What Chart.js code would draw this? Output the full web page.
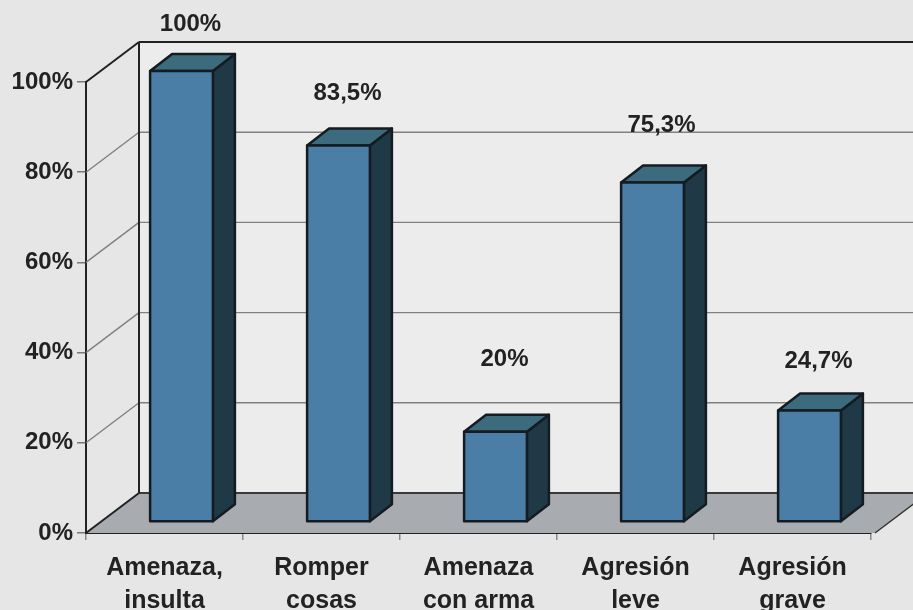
<!DOCTYPE html>
<html lang="es">
<head>
  <meta charset="UTF-8">
  <title>Agresiones</title>
  <script src="https://cdn.jsdelivr.net/npm/chart.js"></script>
  <style>
    html, body { margin: 0; padding: 0; background: #e6e6e6; }
    #wrap { width: 913px; height: 610px; }
  </style>
</head>
<body>
  <div id="wrap"><canvas id="chart" width="913" height="610"></canvas></div>

  <script>
    // data
    const categories = [
      ['Amenaza,', 'insulta'],
      ['Romper', 'cosas'],
      ['Amenaza', 'con arma'],
      ['Agresión', 'leve'],
      ['Agresión', 'grave']
    ];
    const values = [100, 83.5, 20, 75.3, 24.7];
    const valueLabels = ['100%', '83,5%', '20%', '75,3%', '24,7%'];
    const yTicks = [0, 20, 40, 60, 80, 100];

    // how far above each bar top its label sits (layout only)
    const labelLift = [47, 52, 72, 57, 49];

    const FAMILY = '"Liberation Sans", Arial, sans-serif';
    const FONT = 'bold 24px ' + FAMILY;
    const WALL = { dx: 53, dy: -40 };   // back wall offset from front axes
    const BAR = { dx: 17, dy: -11 };    // bar front face offset
    const DEPTH = { dx: 22, dy: -17 };  // bar depth

    function poly(ctx, pts, fill, stroke, lw) {
      ctx.beginPath();
      ctx.moveTo(pts[0][0], pts[0][1]);
      for (let i = 1; i < pts.length; i++) ctx.lineTo(pts[i][0], pts[i][1]);
      ctx.closePath();
      if (fill) { ctx.fillStyle = fill; ctx.fill(); }
      if (stroke) { ctx.strokeStyle = stroke; ctx.lineWidth = lw; ctx.stroke(); }
    }

    function line(ctx, x1, y1, x2, y2, color, lw) {
      ctx.beginPath();
      ctx.moveTo(x1, y1);
      ctx.lineTo(x2, y2);
      ctx.strokeStyle = color;
      ctx.lineWidth = lw;
      ctx.stroke();
    }

    const bars3d = {
      id: 'bars3d',
      beforeDraw(chart) {
        const ctx = chart.ctx;
        ctx.save();
        ctx.fillStyle = '#e6e6e6';
        ctx.fillRect(0, 0, chart.width, chart.height);
        ctx.restore();
      },
      beforeDatasetsDraw(chart) {
        const ctx = chart.ctx;
        const { left: L, right: R, top: T, bottom: B } = chart.chartArea;
        const ys = chart.scales.y;
        ctx.save();
        ctx.lineJoin = 'round';

        // back wall
        ctx.fillStyle = '#ececec';
        ctx.fillRect(L + WALL.dx, T + WALL.dy, chart.width - L - WALL.dx, B - T);

        // floor
        poly(ctx, [[L, B], [R + 4, B], [R + 4 + WALL.dx, B + WALL.dy], [L + WALL.dx, B + WALL.dy]], '#a8acb1');
        line(ctx, L + WALL.dx, B + WALL.dy, chart.width, B + WALL.dy, '#3a3a3a', 2);
        line(ctx, L, B, L + WALL.dx, B + WALL.dy, '#222', 2);
        line(ctx, R + 4, B, R + 4 + WALL.dx, B + WALL.dy, '#333', 1.5);

        // gridlines on the back wall
        ys.ticks.forEach(t => {
          const y = ys.getPixelForValue(t.value);
          if (t.value === 0) return;
          const top = t.value === ys.max;
          const c = top ? '#222' : '#808080';
          const w = top ? 2 : 1.4;
          line(ctx, L, y, L + WALL.dx, y + WALL.dy, c, w);
          line(ctx, L + WALL.dx, y + WALL.dy, chart.width, y + WALL.dy, c, w);
        });
        line(ctx, L + WALL.dx, T + WALL.dy, L + WALL.dx, B + WALL.dy, '#222', 2);
        ctx.restore();
      },
      afterDatasetsDraw(chart) {
        const ctx = chart.ctx;
        const meta = chart.getDatasetMeta(0);
        ctx.save();
        ctx.lineJoin = 'round';
        meta.data.forEach((el, i) => {
          const p = el.getProps(['x', 'y', 'base', 'width'], true);
          const fx = p.x - p.width / 2 + BAR.dx;
          const fy = p.y + BAR.dy;
          const fb = p.base + BAR.dy;
          const fw = p.width;
          const edge = '#141c22';
          poly(ctx, [[fx + fw, fy], [fx + fw + DEPTH.dx, fy + DEPTH.dy], [fx + fw + DEPTH.dx, fb + DEPTH.dy], [fx + fw, fb]], '#1f3946', edge, 2.5);
          poly(ctx, [[fx, fy], [fx + DEPTH.dx, fy + DEPTH.dy], [fx + fw + DEPTH.dx, fy + DEPTH.dy], [fx + fw, fy]], '#3c6b7d', edge, 2.5);
          poly(ctx, [[fx, fy], [fx + fw, fy], [fx + fw, fb], [fx, fb]], '#4a7ea6', edge, 2.5);

          ctx.font = FONT;
          ctx.fillStyle = '#222';
          ctx.textAlign = 'center';
          ctx.textBaseline = 'middle';
          ctx.fillText(valueLabels[i], fx + (fw + DEPTH.dx) / 2 - 2, fy - labelLift[i]);
        });
        ctx.restore();
      }
    };

    new Chart(document.getElementById('chart').getContext('2d'), {
      type: 'bar',
      data: {
        labels: categories,
        datasets: [{
          data: values,
          backgroundColor: 'rgba(0,0,0,0)',
          borderWidth: 0,
          barPercentage: 0.4,
          categoryPercentage: 1
        }]
      },
      options: {
        responsive: false,
        animation: false,
        layout: { padding: { top: 82, right: 42, left: 0, bottom: 0 } },
        plugins: { legend: { display: false }, tooltip: { enabled: false } },
        scales: {
          x: {
            afterFit: s => { s.height = 77; },
            grid: { offset: true, drawOnChartArea: false, tickLength: 7, color: '#888', lineWidth: 1.5 },
            border: { display: true, color: '#222', width: 2 },
            ticks: { font: { family: FAMILY, size: 25, weight: 'bold', lineHeight: 1.32 }, color: '#222', padding: 12, maxRotation: 0 }
          },
          y: {
            min: 0,
            max: 100,
            afterFit: s => { s.width = 86; },
            afterBuildTicks: s => { s.ticks = yTicks.map(v => ({ value: v })); },
            grid: { drawOnChartArea: false, tickLength: 9, color: '#777', lineWidth: 1.5 },
            border: { display: true, color: '#222', width: 2 },
            ticks: { font: { family: FAMILY, size: 24, weight: 'bold' }, color: '#222', padding: 4, callback: v => v + '%' }
          }
        }
      },
      plugins: [bars3d]
    });
  </script>
</body>
</html>
